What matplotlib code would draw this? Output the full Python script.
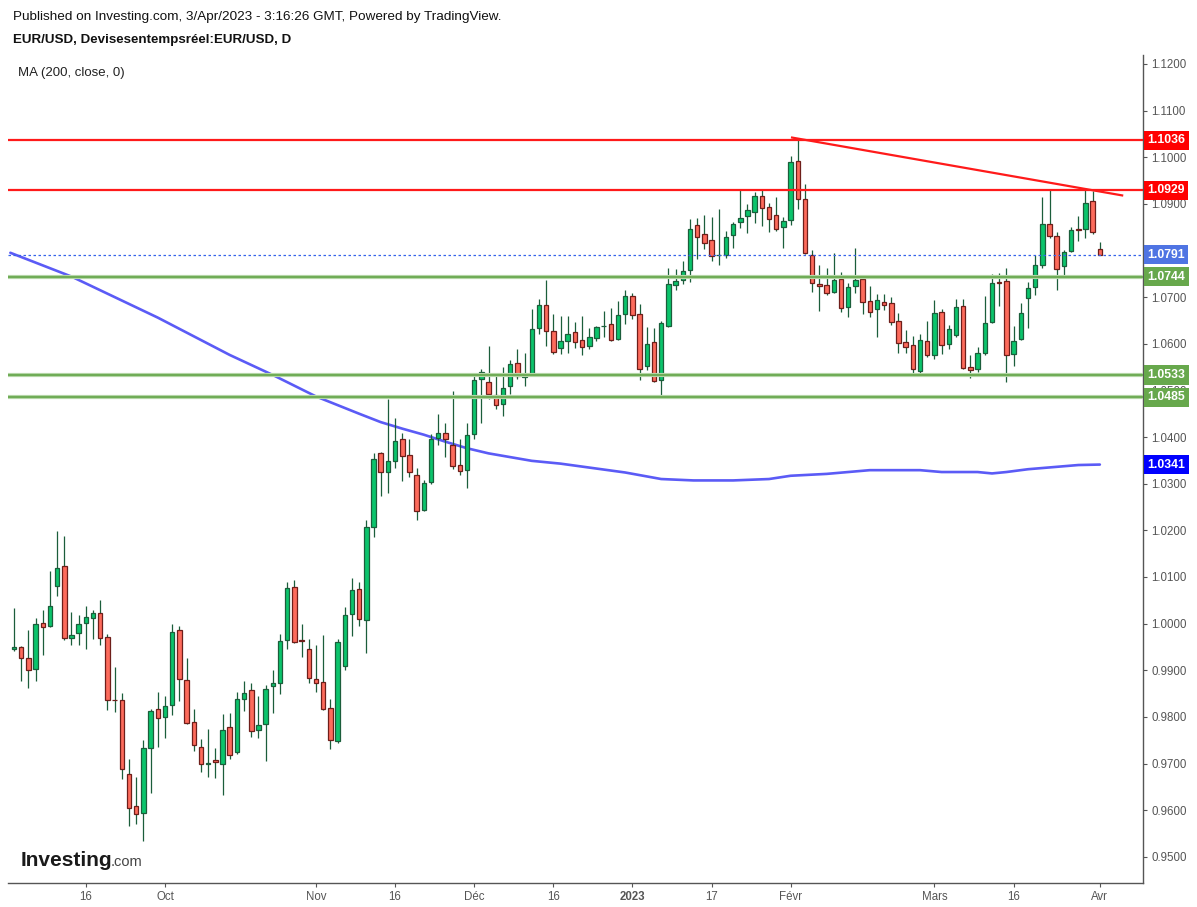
import numpy as np
import pandas as pd
import matplotlib
matplotlib.use("Agg")
import matplotlib.pyplot as plt
from matplotlib.transforms import blended_transform_factory

plt.rcParams['font.family'] = ['Liberation Sans', 'DejaVu Sans']

# daily EUR/USD bars, 2 Sep 2022 -> 3 Apr 2023 (weekdays)
dates = pd.bdate_range('2022-09-02', '2023-04-03')

opens = [0.9945, 0.9950, 0.9926, 0.9902, 1.0001, 0.9995, 1.0080, 1.0123, 0.9969, 0.9980,
         1.0001, 1.0012, 1.0023, 0.9971, 0.9837, 0.9836, 0.9677, 0.9609, 0.9594, 0.9733,
         0.9817, 0.9800, 0.9825, 0.9986, 0.9879, 0.9789, 0.9735, 0.9700, 0.9708, 0.9700,
         0.9778, 0.9725, 0.9838, 0.9857, 0.9772, 0.9785, 0.9866, 0.9872, 0.9965, 1.0078,
         0.9964, 0.9945, 0.9881, 0.9875, 0.9819, 0.9748, 0.9909, 1.0020, 1.0074, 1.0008,
         1.0208, 1.0365, 1.0325, 1.0348, 1.0396, 1.0361, 1.0318, 1.0243, 1.0303, 1.0398,
         1.0408, 1.0383, 1.0340, 1.0329, 1.0406, 1.0524, 1.0518, 1.0490, 1.0471, 1.0509,
         1.0558, 1.0528, 1.0535, 1.0633, 1.0683, 1.0627, 1.0591, 1.0606, 1.0625, 1.0608,
         1.0595, 1.0612, 1.0637, 1.0642, 1.0610, 1.0663, 1.0702, 1.0663, 1.0552, 1.0603,
         1.0522, 1.0638, 1.0726, 1.0736, 1.0758, 1.0854, 1.0835, 1.0822, 1.0790, 1.0790,
         1.0833, 1.0861, 1.0874, 1.0882, 1.0916, 1.0893, 1.0876, 1.0850, 1.0865, 1.0991,
         1.0910, 1.0790, 1.0728, 1.0726, 1.0711, 1.0738, 1.0678, 1.0723, 1.0738, 1.0691,
         1.0674, 1.0689, 1.0687, 1.0648, 1.0603, 1.0597, 1.0541, 1.0606, 1.0576, 1.0668,
         1.0599, 1.0618, 1.0681, 1.0550, 1.0546, 1.0580, 1.0646, 1.0732, 1.0734, 1.0578,
         1.0610, 1.0698, 1.0721, 1.0768, 1.0856, 1.0831, 1.0766, 1.0799, 1.0846, 1.0846,
         1.0906, 1.0803]
highs = [1.0033, 0.9952, 0.9987, 1.0013, 1.0030, 1.0113, 1.0199, 1.0188, 1.0025, 1.0018,
         1.0038, 1.0030, 1.0051, 0.9978, 0.9907, 0.9852, 0.9710, 0.9672, 0.9751, 0.9817,
         0.9853, 0.9845, 0.9999, 0.9995, 0.9927, 0.9817, 0.9752, 0.9774, 0.9733, 0.9807,
         0.9809, 0.9853, 0.9877, 0.9872, 0.9845, 0.9868, 0.9900, 0.9977, 1.0089, 1.0093,
         0.9999, 0.9967, 0.9954, 0.9975, 0.9838, 0.9967, 1.0035, 1.0098, 1.0089, 1.0222,
         1.0365, 1.0368, 1.0481, 1.0441, 1.0408, 1.0396, 1.0333, 1.0308, 1.0406, 1.0449,
         1.0430, 1.0498, 1.0396, 1.0430, 1.0535, 1.0546, 1.0595, 1.0533, 1.0550, 1.0565,
         1.0588, 1.0580, 1.0674, 1.0696, 1.0736, 1.0664, 1.0660, 1.0660, 1.0646, 1.0660,
         1.0633, 1.0638, 1.0670, 1.0676, 1.0691, 1.0715, 1.0708, 1.0685, 1.0636, 1.0633,
         1.0648, 1.0762, 1.0760, 1.0777, 1.0867, 1.0869, 1.0876, 1.0871, 1.0889, 1.0841,
         1.0861, 1.0929, 1.0899, 1.0925, 1.0931, 1.0901, 1.0914, 1.0871, 1.1002, 1.1036,
         1.0942, 1.0801, 1.0768, 1.0762, 1.0794, 1.0753, 1.0730, 1.0805, 1.0745, 1.0723,
         1.0706, 1.0706, 1.0700, 1.0666, 1.0630, 1.0617, 1.0621, 1.0648, 1.0693, 1.0674,
         1.0640, 1.0696, 1.0696, 1.0576, 1.0593, 1.0702, 1.0749, 1.0751, 1.0762, 1.0638,
         1.0687, 1.0732, 1.0790, 1.0914, 1.0931, 1.0839, 1.0801, 1.0850, 1.0874, 1.0929,
         1.0927, 1.0818]
lows = [0.9942, 0.9878, 0.9863, 0.9876, 0.9932, 0.9993, 1.0060, 0.9965, 0.9955, 0.9955,
        0.9945, 0.9966, 0.9955, 0.9814, 0.9810, 0.9668, 0.9567, 0.9570, 0.9535, 0.9636,
        0.9735, 0.9754, 0.9805, 0.9835, 0.9785, 0.9726, 0.9681, 0.9672, 0.9669, 0.9632,
        0.9710, 0.9720, 0.9812, 0.9756, 0.9755, 0.9705, 0.9808, 0.9849, 0.9945, 0.9958,
        0.9928, 0.9872, 0.9853, 0.9814, 0.9731, 0.9744, 0.9900, 0.9973, 0.9995, 0.9937,
        1.0185, 1.0273, 1.0281, 1.0333, 1.0305, 1.0314, 1.0223, 1.0241, 1.0299, 1.0383,
        1.0357, 1.0331, 1.0318, 1.0290, 1.0396, 1.0430, 1.0481, 1.0460, 1.0445, 1.0492,
        1.0524, 1.0509, 1.0531, 1.0621, 1.0595, 1.0578, 1.0577, 1.0580, 1.0591, 1.0576,
        1.0588, 1.0606, 1.0614, 1.0606, 1.0608, 1.0642, 1.0653, 1.0522, 1.0543, 1.0518,
        1.0485, 1.0636, 1.0715, 1.0728, 1.0732, 1.0781, 1.0803, 1.0777, 1.0768, 1.0784,
        1.0805, 1.0848, 1.0837, 1.0859, 1.0852, 1.0839, 1.0841, 1.0805, 1.0854, 1.0889,
        1.0792, 1.0711, 1.0670, 1.0705, 1.0708, 1.0668, 1.0657, 1.0708, 1.0663, 1.0657,
        1.0614, 1.0672, 1.0640, 1.0580, 1.0580, 1.0537, 1.0533, 1.0572, 1.0567, 1.0578,
        1.0588, 1.0615, 1.0545, 1.0526, 1.0539, 1.0576, 1.0644, 1.0681, 1.0518, 1.0552,
        1.0608, 1.0633, 1.0704, 1.0762, 1.0826, 1.0715, 1.0747, 1.0796, 1.0820, 1.0826,
        1.0835, 1.0790]
closes = [0.9950, 0.9926, 0.9900, 0.9999, 0.9993, 1.0038, 1.0119, 0.9969, 0.9975, 0.9999,
          1.0014, 1.0023, 0.9969, 0.9836, 0.9836, 0.9688, 0.9605, 0.9592, 0.9733, 0.9812,
          0.9797, 0.9823, 0.9982, 0.9881, 0.9787, 0.9740, 0.9699, 0.9701, 0.9703, 0.9772,
          0.9718, 0.9838, 0.9851, 0.9770, 0.9782, 0.9860, 0.9872, 0.9962, 1.0076, 0.9960,
          0.9963, 0.9883, 0.9872, 0.9817, 0.9750, 0.9960, 1.0018, 1.0072, 1.0010, 1.0207,
          1.0353, 1.0325, 1.0348, 1.0391, 1.0359, 1.0325, 1.0241, 1.0301, 1.0396, 1.0408,
          1.0396, 1.0338, 1.0327, 1.0404, 1.0522, 1.0539, 1.0492, 1.0468, 1.0505, 1.0556,
          1.0531, 1.0535, 1.0631, 1.0683, 1.0627, 1.0582, 1.0606, 1.0621, 1.0603, 1.0593,
          1.0614, 1.0636, 1.0638, 1.0608, 1.0661, 1.0702, 1.0661, 1.0546, 1.0599, 1.0520,
          1.0644, 1.0728, 1.0734, 1.0756, 1.0846, 1.0829, 1.0816, 1.0788, 1.0791, 1.0829,
          1.0856, 1.0869, 1.0886, 1.0916, 1.0891, 1.0867, 1.0846, 1.0863, 1.0989, 1.0910,
          1.0794, 1.0730, 1.0723, 1.0708, 1.0736, 1.0676, 1.0721, 1.0736, 1.0689, 1.0668,
          1.0693, 1.0683, 1.0646, 1.0601, 1.0594, 1.0546, 1.0608, 1.0576, 1.0666, 1.0597,
          1.0631, 1.0678, 1.0548, 1.0543, 1.0580, 1.0644, 1.0730, 1.0731, 1.0576, 1.0606,
          1.0666, 1.0719, 1.0768, 1.0856, 1.0831, 1.0760, 1.0796, 1.0844, 1.0844, 1.0901,
          1.0839, 1.0791]

# MA(200, close): bar position -> value
ma_pos = [-0.5, 8, 20, 30, 36, 42, 48, 51, 54, 57, 60, 63, 66, 69, 72, 76, 85, 90,
          94.5, 100, 105, 108, 113, 119, 126, 129, 134, 136, 138, 141, 148, 151]
ma_val = [1.0795, 1.0744, 1.0656, 1.0576, 1.0533, 1.0487, 1.0450, 1.0432, 1.0418, 1.0405,
          1.0390, 1.0376, 1.0365, 1.0357, 1.0349, 1.0343, 1.0324, 1.0310, 1.0307, 1.0307,
          1.0310, 1.0317, 1.0321, 1.0329, 1.0329, 1.0325, 1.0325, 1.0322, 1.0325, 1.0331,
          1.0340, 1.0341]
ma_last = 1.0341

red_levels = [1.1036, 1.0929]
green_levels = [1.0744, 1.0533, 1.0485]
last_price = 1.0791
trend_pos = [108.2, 154.1]
trend_val = [1.1042, 1.0918]

tick_dates = ['2022-09-16', '2022-10-03', '2022-11-01', '2022-11-16', '2022-12-01', '2022-12-16',
              '2023-01-02', '2023-01-17', '2023-02-01', '2023-03-01', '2023-03-16', '2023-04-03']
tick_labels = ['16', 'Oct', 'Nov', '16', 'Déc', '16', '2023', '17', 'Févr', 'Mars', '16', 'Avr']
price_ticks = [0.95, 0.96, 0.97, 0.98, 0.99, 1.00, 1.01, 1.02, 1.03, 1.04, 1.05,
               1.06, 1.07, 1.09, 1.10, 1.11, 1.12]  # 1.0800 sits under the last-price box

W, H = 1197, 907
fig = plt.figure(figsize=(W / 100, H / 100), dpi=100)
fig.patch.set_facecolor('white')
ax = fig.add_axes([8 / W, 1 - 883 / H, (1143 - 8) / W, (883 - 55) / H])

x = np.arange(len(dates))
o = np.array(opens); h = np.array(highs); l = np.array(lows); c = np.array(closes)
up = c >= o

green_fill, green_edge = '#0bc46c', '#1b5e3b'
red_fill, red_edge = '#fd6b5c', '#6e1e1a'

ax.vlines(x, l, h, color='#1b5e3b', lw=0.9, zorder=3)
body_h = np.maximum(np.abs(c - o), 0.00004)
body_b = np.minimum(o, c)
ax.bar(x[up], body_h[up], bottom=body_b[up], width=0.62, color=green_fill,
       edgecolor=green_edge, linewidth=0.9, zorder=4)
ax.bar(x[~up], body_h[~up], bottom=body_b[~up], width=0.62, color=red_fill,
       edgecolor=red_edge, linewidth=0.9, zorder=4)

# moving average
ax.plot(ma_pos, ma_val, color='#5b5bf6', lw=1.9, zorder=2, solid_capstyle='round')

# drawn levels
for lv in red_levels:
    ax.axhline(lv, color='#ff1a1a', lw=1.6, zorder=5)
for lv in green_levels:
    ax.axhline(lv, color='#b4d6a6', lw=3.0, zorder=5)
    ax.axhline(lv, color='#69a84f', lw=1.3, zorder=5)
ax.axhline(last_price, color='#3563ea', lw=0.9, ls=(0, (2, 2)), zorder=5)
ax.plot(trend_pos, trend_val, color='#ff1a1a', lw=1.6, zorder=5)

ax.set_xlim(-0.83, 157.0)
ax.set_ylim(0.9444, 1.1219)

for s in ['top', 'left']:
    ax.spines[s].set_visible(False)
for s in ['right', 'bottom']:
    ax.spines[s].set_color('#555555')
    ax.spines[s].set_linewidth(1)

ax.yaxis.tick_right()
ax.set_yticks(price_ticks)
ax.set_yticklabels([f'{v:.4f}' for v in price_ticks])
ax.tick_params(axis='y', length=3, width=0.8, color='#555555', labelsize=8.3,
               labelcolor='#555555', pad=3)

tpos = dates.get_indexer(pd.to_datetime(tick_dates))
ax.set_xticks(tpos)
ax.set_xticklabels(tick_labels)
ax.tick_params(axis='x', length=3, width=0.8, color='#555555', labelsize=8.3,
               labelcolor='#555555', pad=3)
for t in ax.get_xticklabels():
    if t.get_text() == '2023':
        t.set_fontweight('bold')

# price boxes on the right axis
trans = blended_transform_factory(ax.transAxes, ax.transData)
boxes = [(red_levels[0], '#ff0000'), (red_levels[1], '#ff0000'), (last_price, '#4f74e3'),
         (green_levels[0], '#67a84c'), (green_levels[1], '#67a84c'), (green_levels[2], '#67a84c'),
         (ma_last, '#0000ff')]
for val, col in boxes:
    ax.annotate(f'{val:.4f}', xy=(1, val), xycoords=trans, xytext=(3.0, 0),
                textcoords='offset points', ha='left', va='center', fontsize=8.8,
                fontweight='bold', color='white', zorder=10, annotation_clip=False,
                bbox=dict(boxstyle='square,pad=0.3', fc=col, ec='none'))

# header and legend text
fig.text(13 / W, 1 - 17 / H, 'Published on Investing.com, 3/Apr/2023 - 3:16:26 GMT, Powered by TradingView.',
         fontsize=9.7, va='center', ha='left', color='#111111')
fig.text(13 / W, 1 - 40 / H, 'EUR/USD, Devisesentempsréel:EUR/USD, D',
         fontsize=9.6, va='center', ha='left', fontweight='bold', color='#111111')
fig.text(18 / W, 1 - 73 / H, 'MA (200, close, 0)', fontsize=9.5, va='center', ha='left', color='#222222')

# logo
fig.text(21 / W, 1 - 860 / H, 'Investing', fontsize=15, fontweight='bold', va='center',
         ha='left', color='#1a1a1a')
fig.text(111 / W, 1 - 862 / H, '.com', fontsize=10.5, va='center', ha='left', color='#444444')

fig.savefig('out.png', dpi=100)
